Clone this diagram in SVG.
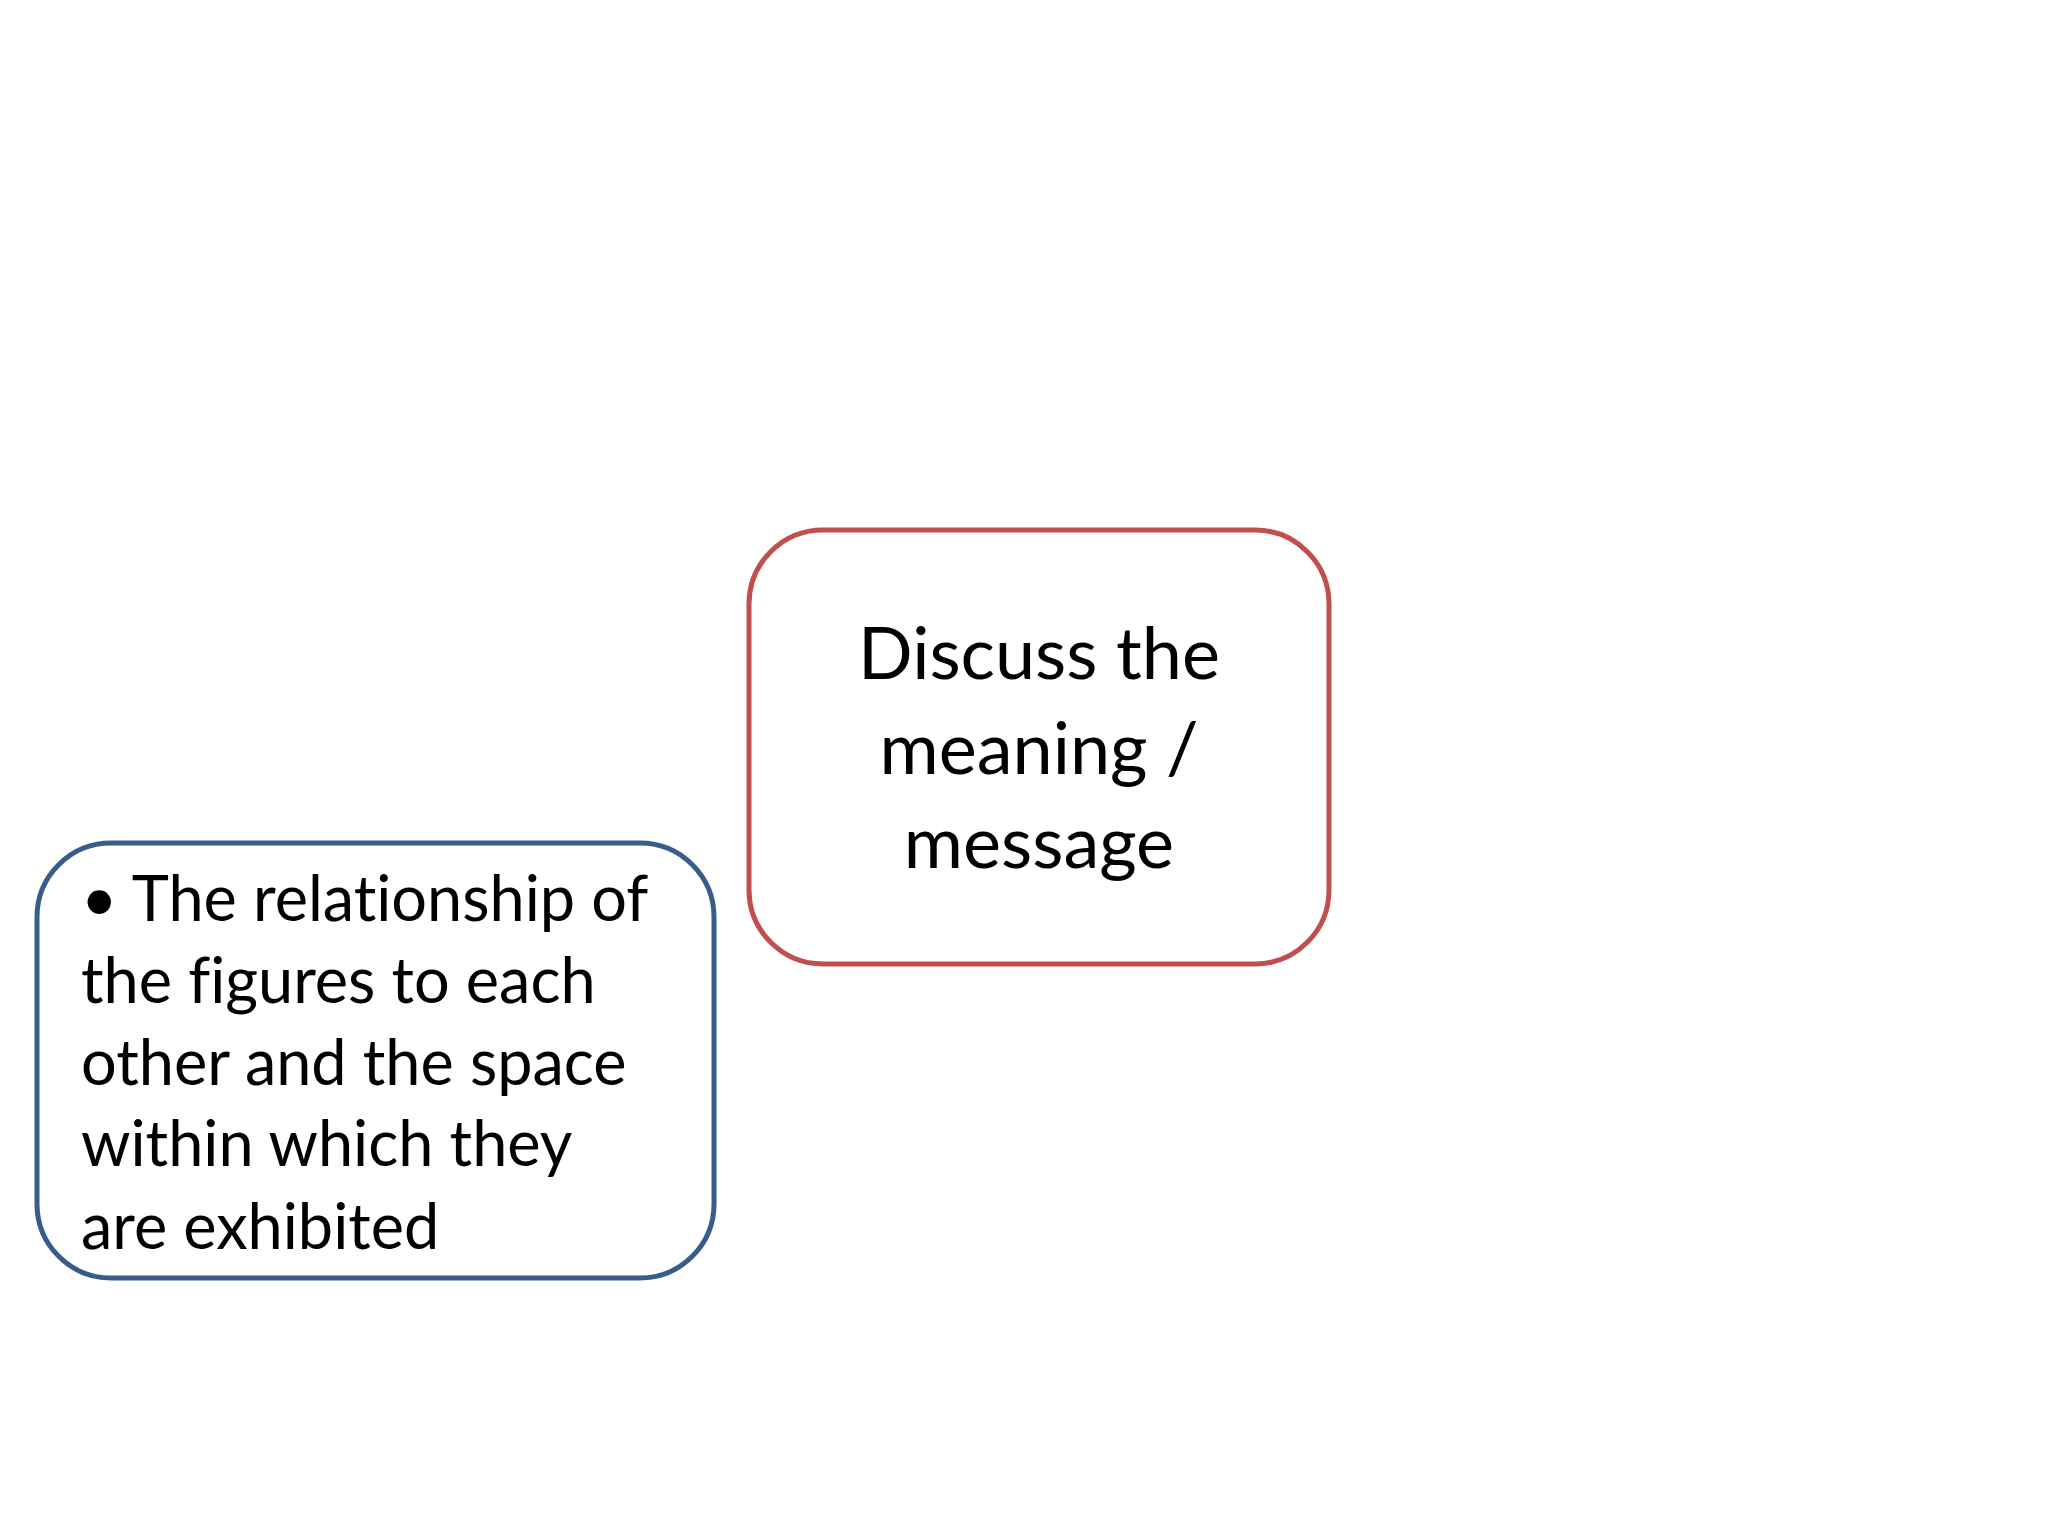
<svg xmlns="http://www.w3.org/2000/svg" width="2048" height="1536" viewBox="0 0 2048 1536">
<style>
.box{fill:#ffffff;stroke-width:5}
.red{stroke:#C0504D}
.blue{stroke:#385D8A}
.t{font-family:Lato,"Open Sans",sans-serif;fill:#000;font-variant-ligatures:none}
.c{text-anchor:middle;font-size:72px}
.l{font-size:63px}
</style>
<rect width="2048" height="1536" fill="#ffffff"/>
<g id="connectors"></g>
<g id="node-discuss">
<rect class="box red" x="749" y="530" width="580" height="434" rx="74" ry="74"/>
<text class="t c" x="1039" y="679">Discuss the</text>
<text class="t c" x="1039" y="774">meaning /</text>
<text class="t c" x="1039" y="868">message</text>
</g>
<g id="node-relationship">
<rect class="box blue" x="37" y="843" width="677" height="435" rx="74" ry="74"/>
<text class="t l" x="81" y="921">• The relationship of</text>
<text class="t l" x="81" y="1003">the figures to each</text>
<text class="t l" x="81" y="1085">other and the space</text>
<text class="t l" x="81" y="1166">within which they</text>
<text class="t l" x="81" y="1249">are exhibited</text>
</g>
</svg>
